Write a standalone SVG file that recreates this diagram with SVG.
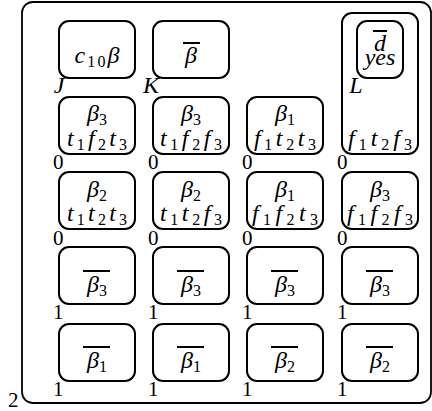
<svg xmlns="http://www.w3.org/2000/svg" width="432" height="411" viewBox="0 0 432 411">
<style>
.box{fill:none;stroke:#000;stroke-width:2}
.outer{fill:none;stroke:#000;stroke-width:1.8}
.bar{stroke:#000;stroke-width:2}
text{font-family:"Liberation Serif","DejaVu Serif",serif;fill:#000}
.m{font-style:italic;font-size:24px;text-anchor:middle}
.s{font-style:normal;font-size:16px}
.n{font-size:21px}
</style>
<defs>
<rect id="cell" class="box" width="76" height="57" rx="10"/>
</defs>
<rect width="432" height="411" fill="#fff"/>
<g id="frame">
<rect class="outer" x="22" y="2" width="409" height="401" rx="11"/>
<text class="n" x="8" y="407">2</text>
</g>
<g id="connectors"/>
<g id="nodeJ">
<use href="#cell" x="59" y="21"/>
<text class="m" x="97" y="63" textLength="45">c<tspan class="s" dy="4">10</tspan><tspan dy="-4">β</tspan></text>
<text class="m" x="59" y="93">J</text>
</g>
<g id="nodeK">
<use href="#cell" x="153" y="21"/>
<line class="bar" x1="183" y1="43" x2="200" y2="43"/>
<text class="m" x="191" y="63">β</text>
<text class="m" x="151" y="93">K</text>
</g>
<g id="nodeL">
<rect class="box" x="342" y="13" width="76" height="141" rx="10"/>
<rect class="box" x="357" y="21" width="46" height="57" rx="10"/>
<line class="bar" x1="373" y1="31" x2="387" y2="31"/>
<text class="m" x="380" y="51">d<tspan x="380" dy="14">yes</tspan></text>
<text class="m" x="356" y="93">L</text>
<text class="m" x="380" y="146" textLength="64">f<tspan class="s" dy="4">1</tspan><tspan dy="-4">t</tspan><tspan class="s" dy="4">2</tspan><tspan dy="-4">f</tspan><tspan class="s" dy="4">3</tspan></text>
</g>
<g id="n21">
<use href="#cell" x="59" y="97"/>
<text class="m" x="97" y="121">β<tspan class="s" dy="4">3</tspan></text>
<text class="m" x="97" y="146" textLength="60">t<tspan class="s" dy="4">1</tspan><tspan dy="-4">f</tspan><tspan class="s" dy="4">2</tspan><tspan dy="-4">t</tspan><tspan class="s" dy="4">3</tspan></text>
</g>
<g id="n22">
<use href="#cell" x="153" y="97"/>
<text class="m" x="191" y="121">β<tspan class="s" dy="4">3</tspan></text>
<text class="m" x="191" y="146" textLength="62">t<tspan class="s" dy="4">1</tspan><tspan dy="-4">f</tspan><tspan class="s" dy="4">2</tspan><tspan dy="-4">f</tspan><tspan class="s" dy="4">3</tspan></text>
</g>
<g id="n23">
<use href="#cell" x="247" y="97"/>
<text class="m" x="285" y="121">β<tspan class="s" dy="4">1</tspan></text>
<text class="m" x="285" y="146" textLength="62">f<tspan class="s" dy="4">1</tspan><tspan dy="-4">t</tspan><tspan class="s" dy="4">2</tspan><tspan dy="-4">t</tspan><tspan class="s" dy="4">3</tspan></text>
</g>
<g id="n31">
<use href="#cell" x="59" y="172"/>
<text class="m" x="97" y="197">β<tspan class="s" dy="4">2</tspan></text>
<text class="m" x="97" y="221" textLength="60">t<tspan class="s" dy="4">1</tspan><tspan dy="-4">t</tspan><tspan class="s" dy="4">2</tspan><tspan dy="-4">t</tspan><tspan class="s" dy="4">3</tspan></text>
</g>
<g id="n32">
<use href="#cell" x="153" y="172"/>
<text class="m" x="191" y="197">β<tspan class="s" dy="4">2</tspan></text>
<text class="m" x="191" y="221" textLength="62">t<tspan class="s" dy="4">1</tspan><tspan dy="-4">t</tspan><tspan class="s" dy="4">2</tspan><tspan dy="-4">f</tspan><tspan class="s" dy="4">3</tspan></text>
</g>
<g id="n33">
<use href="#cell" x="247" y="172"/>
<text class="m" x="285" y="197">β<tspan class="s" dy="4">1</tspan></text>
<text class="m" x="285" y="221" textLength="66">f<tspan class="s" dy="4">1</tspan><tspan dy="-4">f</tspan><tspan class="s" dy="4">2</tspan><tspan dy="-4">t</tspan><tspan class="s" dy="4">3</tspan></text>
</g>
<g id="n34">
<use href="#cell" x="342" y="172"/>
<text class="m" x="380" y="197">β<tspan class="s" dy="4">3</tspan></text>
<text class="m" x="380" y="221" textLength="66">f<tspan class="s" dy="4">1</tspan><tspan dy="-4">f</tspan><tspan class="s" dy="4">2</tspan><tspan dy="-4">f</tspan><tspan class="s" dy="4">3</tspan></text>
</g>
<g id="n41">
<use href="#cell" x="59" y="247"/>
<line class="bar" x1="83" y1="271" x2="110" y2="271"/>
<text class="m" x="97" y="292">β<tspan class="s" dy="4">3</tspan></text>
</g>
<g id="n42">
<use href="#cell" x="153" y="247"/>
<line class="bar" x1="177" y1="271" x2="204" y2="271"/>
<text class="m" x="191" y="292">β<tspan class="s" dy="4">3</tspan></text>
</g>
<g id="n43">
<use href="#cell" x="247" y="247"/>
<line class="bar" x1="271" y1="271" x2="298" y2="271"/>
<text class="m" x="285" y="292">β<tspan class="s" dy="4">3</tspan></text>
</g>
<g id="n44">
<use href="#cell" x="342" y="247"/>
<line class="bar" x1="366" y1="271" x2="393" y2="271"/>
<text class="m" x="380" y="292">β<tspan class="s" dy="4">3</tspan></text>
</g>
<g id="n51">
<use href="#cell" x="59" y="324"/>
<line class="bar" x1="83" y1="347" x2="110" y2="347"/>
<text class="m" x="97" y="368">β<tspan class="s" dy="4">1</tspan></text>
</g>
<g id="n52">
<use href="#cell" x="153" y="324"/>
<line class="bar" x1="177" y1="347" x2="204" y2="347"/>
<text class="m" x="191" y="368">β<tspan class="s" dy="4">1</tspan></text>
</g>
<g id="n53">
<use href="#cell" x="247" y="324"/>
<line class="bar" x1="271" y1="347" x2="298" y2="347"/>
<text class="m" x="285" y="368">β<tspan class="s" dy="4">2</tspan></text>
</g>
<g id="n54">
<use href="#cell" x="342" y="324"/>
<line class="bar" x1="366" y1="347" x2="393" y2="347"/>
<text class="m" x="380" y="368">β<tspan class="s" dy="4">2</tspan></text>
</g>
<g id="portLabels">
<text class="n" x="53" y="169">0</text><text class="n" x="148" y="169">0</text><text class="n" x="242" y="169">0</text><text class="n" x="337" y="169">0</text>
<text class="n" x="53" y="245">0</text><text class="n" x="148" y="245">0</text><text class="n" x="242" y="245">0</text><text class="n" x="337" y="245">0</text>
<text class="n" x="53" y="319">1</text><text class="n" x="148" y="319">1</text><text class="n" x="242" y="319">1</text><text class="n" x="337" y="319">1</text>
<text class="n" x="53" y="396">1</text><text class="n" x="148" y="396">1</text><text class="n" x="242" y="396">1</text><text class="n" x="337" y="396">1</text>
</g>
</svg>
